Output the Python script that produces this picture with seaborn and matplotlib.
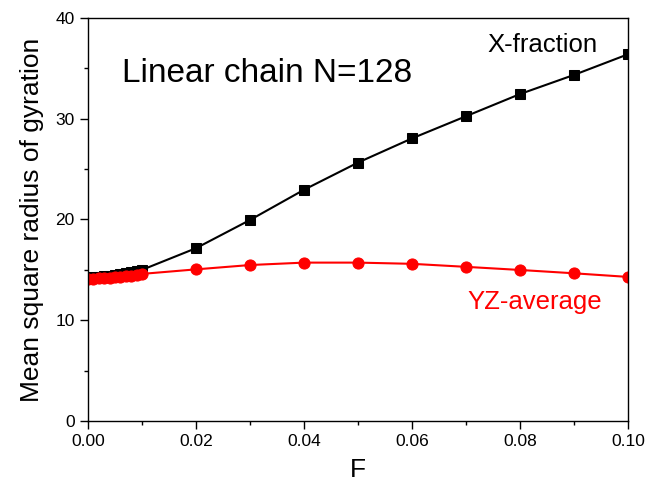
import matplotlib
matplotlib.use("Agg")
import matplotlib.pyplot as plt
import seaborn as sns
import pandas as pd
from matplotlib.ticker import MultipleLocator, FormatStrFormatter

# Force values F and mean square radius of gyration for each component
force = [0.000, 0.001, 0.002, 0.003, 0.004, 0.005, 0.006, 0.007, 0.008, 0.009, 0.010,
         0.02, 0.03, 0.04, 0.05, 0.06, 0.07, 0.08, 0.09, 0.10]
x_fraction = [14.2, 14.25, 14.3, 14.35, 14.4, 14.45, 14.55, 14.65, 14.75, 14.85, 15.0,
              17.15, 19.95, 22.95, 25.65, 28.05, 30.25, 32.45, 34.35, 36.4]
yz_average = [14.1, 14.12, 14.15, 14.18, 14.2, 14.25, 14.3, 14.35, 14.4, 14.5, 14.6,
              15.05, 15.48, 15.72, 15.72, 15.6, 15.3, 14.99, 14.66, 14.3]

df = pd.DataFrame({"F": force, "X": x_fraction, "YZ": yz_average})

sns.set_theme(style="ticks")
plt.rcParams["font.family"] = ["Liberation Sans", "DejaVu Sans"]
plt.rcParams["text.color"] = "black"
plt.rcParams["axes.labelcolor"] = "black"

fig = plt.figure(figsize=(6.46, 4.84), dpi=100)
ax = fig.add_axes([0.1362, 0.1302, 0.8359, 0.8326])

sns.lineplot(data=df, x="F", y="X", ax=ax, color="black", marker="s",
             markersize=7, markeredgecolor="black", linewidth=1.5)
sns.lineplot(data=df, x="F", y="YZ", ax=ax, color="red", marker="o",
             markersize=8, markeredgecolor="red", linewidth=1.5)

ax.set_xlim(0, 0.10)
ax.set_ylim(0, 40)
ax.xaxis.set_major_locator(MultipleLocator(0.02))
ax.xaxis.set_minor_locator(MultipleLocator(0.01))
ax.yaxis.set_major_locator(MultipleLocator(10))
ax.yaxis.set_minor_locator(MultipleLocator(5))
ax.xaxis.set_major_formatter(FormatStrFormatter("%.2f"))

ax.tick_params(axis="both", which="major", direction="out", length=6, width=1,
               labelsize=12.5, colors="black", top=False, right=False)
ax.tick_params(axis="both", which="minor", direction="out", length=3, width=1,
               colors="black", top=False, right=False)
for side in ["top", "right", "bottom", "left"]:
    ax.spines[side].set_visible(True)
    ax.spines[side].set_color("black")
    ax.spines[side].set_linewidth(1.0)

ax.set_xlabel("F", fontsize=19, labelpad=6, color="black")
ax.set_ylabel("Mean square radius of gyration", fontsize=19, labelpad=8, color="black")

ax.text(0.0063, 34.5, "Linear chain N=128", fontsize=24, va="center", ha="left", color="black")
ax.text(0.0739, 37.3, "X-fraction", fontsize=18.5, va="center", ha="left", color="black")
ax.text(0.0702, 11.8, "YZ-average", fontsize=18.5, va="center", ha="left", color="red")

fig.savefig("out.png", dpi=100)
